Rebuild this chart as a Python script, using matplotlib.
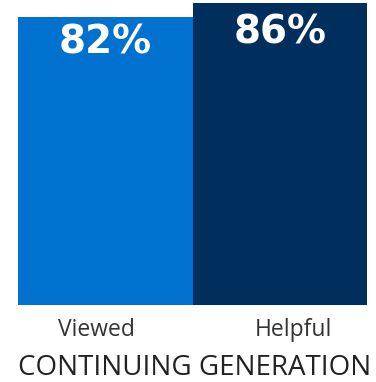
import matplotlib
matplotlib.use("Agg")
import matplotlib.pyplot as plt

categories = ["Viewed", "Helpful"]
values = [82, 86]
colors = ["#0071CE", "#002E5D"]
title = "CONTINUING GENERATION"

fig = plt.figure(figsize=(3.76, 3.82), dpi=100)
ax = fig.add_axes([18 / 376, 77 / 382, 349 / 376, 305 / 382])

x = range(len(categories))
ax.bar(x, values, width=1.0, color=colors, align="center")
ax.set_xlim(-0.5, 1.5)
ax.set_ylim(0, 86.9)

# percentage labels sit inside the top of each bar
label_offsets = [-25, -29]
for xi, v, off in zip(x, values, label_offsets):
    ax.annotate(f"{v}%", xy=(xi, v), xytext=(0, off), textcoords="offset pixels",
                ha="center", va="center", color="white", fontsize=28,
                fontweight="bold", family="DejaVu Sans")

ax.set_xticks([-0.05, 1.08])
ax.set_xticklabels(categories, fontsize=16.5, family="Open Sans", color="#333333")
ax.tick_params(axis="x", length=0, pad=9)
ax.set_yticks([])
for side in ["top", "bottom", "left", "right"]:
    ax.spines[side].set_visible(False)

fig.text(0.518, 7 / 382, title, ha="center", va="baseline", fontsize=20,
         family="Open Sans", color="#222222")

fig.savefig("out.png", dpi=100)
